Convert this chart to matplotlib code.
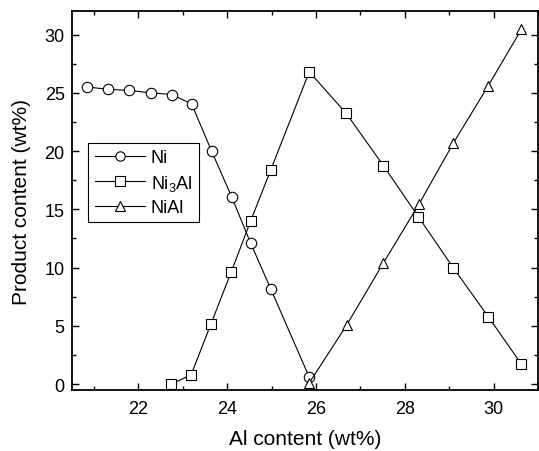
import numpy as np
import matplotlib
matplotlib.use("Agg")
import matplotlib.pyplot as plt
from matplotlib.ticker import MultipleLocator

plt.rcParams['font.family'] = ['Liberation Sans', 'DejaVu Sans']
plt.rcParams['mathtext.fontset'] = 'custom'
plt.rcParams['mathtext.rm'] = 'Liberation Sans'
plt.rcParams['mathtext.it'] = 'Liberation Sans'

## Données
ni_x = [20.84, 21.32, 21.80, 22.28, 22.75, 23.20, 23.65, 24.10, 24.53, 24.98, 25.85]
ni_y = [25.5, 25.3, 25.2, 25.0, 24.85, 24.05, 20.0, 16.1, 12.1, 8.2, 0.6]

ni3al_x = [22.74, 23.19, 23.64, 24.09, 24.53, 24.98, 25.85, 26.68, 27.52, 28.31, 29.09, 29.88, 30.63]
ni3al_y = [0.0, 0.8, 5.2, 9.6, 14.0, 18.35, 26.8, 23.25, 18.75, 14.35, 10.0, 5.8, 1.7]

nial_x = [25.85, 26.69, 27.52, 28.33, 29.09, 29.88, 30.63]
nial_y = [0.1, 5.05, 10.4, 15.5, 20.65, 25.6, 30.45]

labels = ["Ni", "Ni$_3$Al", "NiAl"]

fig = plt.figure(figsize=(5.39, 4.52), dpi=100)
ax = fig.add_axes([0.133, 0.135, 0.865, 0.838])

style = dict(color='black', lw=0.8, markersize=7.5, markerfacecolor='white',
             markeredgecolor='black', markeredgewidth=0.8)
ax.plot(ni_x, ni_y, marker='o', label=labels[0], **style)
ax.plot(ni3al_x, ni3al_y, marker='s', label=labels[1], **style)
ax.plot(nial_x, nial_y, marker='^', label=labels[2], **style)

ax.set_xlim(20.5, 31.0)
ax.set_ylim(-0.5, 32)
ax.xaxis.set_major_locator(MultipleLocator(2))
ax.xaxis.set_minor_locator(MultipleLocator(1))
ax.yaxis.set_major_locator(MultipleLocator(5))
ax.yaxis.set_minor_locator(MultipleLocator(2.5))
ax.tick_params(which='both', direction='in', top=True, right=True, labelsize=13)
ax.tick_params(which='major', length=5, width=1)
ax.tick_params(which='minor', length=3, width=1)
ax.tick_params(axis='x', which='major', pad=7)
ax.tick_params(axis='y', which='major', pad=5)
for s in ax.spines.values():
    s.set_linewidth(1.3)

ax.set_xlabel("Al content (wt%)", fontsize=15, labelpad=9)
ax.set_ylabel("Product content (wt%)", fontsize=15, labelpad=10)

leg = ax.legend(loc='upper left', bbox_to_anchor=(0.036, 0.652), fontsize=13,
                fancybox=False, framealpha=1, edgecolor='black', markerscale=0.9,
                borderaxespad=0, handlelength=2.8, borderpad=0.35,
                labelspacing=0.35, handletextpad=0.3)
leg.get_frame().set_linewidth(0.8)

fig.savefig("out.png", dpi=100)
